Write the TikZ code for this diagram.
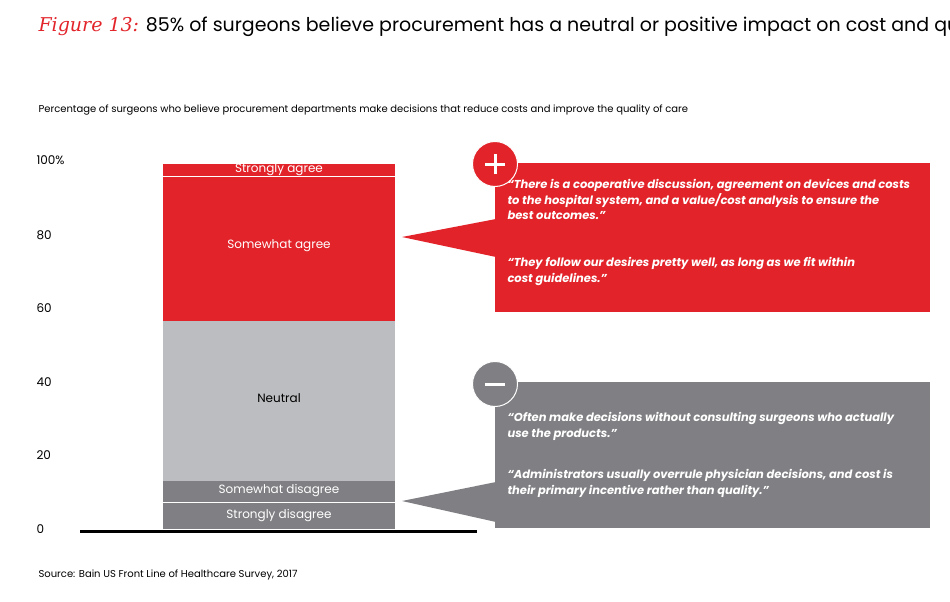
\documentclass[tikz,border=0pt]{standalone}
\usepackage{fontspec}
\setmainfont{Poppins}
\newfontfamily\figfont{DejaVu Serif}
\definecolor{bainred}{HTML}{E2242A}
\definecolor{darkgrey}{HTML}{808084}
\definecolor{lightgrey}{HTML}{BCBDC0}
\tikzset{
  seglabel/.style={font=\fontsize{12}{14}\selectfont},
  ticklabel/.style={anchor=west,font=\fontsize{12}{14}\selectfont},
  quote/.style={anchor=north west,align=left,text=white,font=\fontsize{11.5}{15.5}\selectfont\itshape\bfseries},
  badge/.style={circle,draw=white,line width=1pt,minimum size=45pt,inner sep=0pt}
}
\begin{document}
\begin{tikzpicture}[x=1pt,y=-1pt]
  \useasboundingbox (0,0) rectangle (950,602);
  % title and subtitle
  \node (title)[anchor=west] at (35,27) {\fontsize{19}{24}\selectfont{\color{bainred}\figfont\itshape Figure 13:} 85\% of surgeons believe procurement has a neutral or positive impact on cost and quality};
  \node (sub)[anchor=west,font=\fontsize{10}{13}\selectfont] at (35,110) {Percentage of surgeons who believe procurement departments make decisions that reduce costs and improve the quality of care};
  % axis
  \foreach \v/\y in {100\%/160,80/235,60/308,40/382,20/455,0/529}
    \node[ticklabel] at (33,\y) {\v};
  % bar
  \fill[darkgrey] (163,481) rectangle (395,529);
  \fill[lightgrey] (163,321) rectangle (395,481);
  \fill[bainred] (163,164) rectangle (395,321);
  \draw[white,line width=0.8pt] (163,502) -- (395,502);
  \draw[white,line width=0.8pt] (163,176) -- (395,176);
  \node[seglabel,text=white] (sa) at (279,170) {Strongly agree};
  \node[seglabel,text=white] (wa) at (279,246) {Somewhat agree};
  \node[seglabel] (ne) at (279,398) {Neutral};
  \node[seglabel,text=white] (wd) at (279,491) {Somewhat disagree};
  \node[seglabel,text=white] (sd) at (279,516) {Strongly disagree};
  \draw[black,line width=3pt] (80,531) -- (477,531);
  % positive callout
  \fill[bainred] (495,163) rectangle (930,312);
  \fill[bainred] (402,237) -- (496,219) -- (496,257) -- cycle;
  \node[badge,fill=bainred] (plus) at (495,164) {};
  \draw[white,line width=3pt] ([xshift=-10pt]plus.center) -- ([xshift=10pt]plus.center)
    ([yshift=-10pt]plus.center) -- ([yshift=10pt]plus.center);
  \node[quote] (q1) at (504,176) {``There is a cooperative discussion, agreement on devices and costs\\to the hospital system, and a value/cost analysis to ensure the\\best outcomes.''};
  \node[quote] (q2) at (504,254) {``They follow our desires pretty well, as long as we fit within\\cost guidelines.''};
  % negative callout
  \fill[darkgrey] (495,382) rectangle (930,528);
  \fill[darkgrey] (402,501) -- (496,482) -- (496,522) -- cycle;
  \node[badge,fill=darkgrey] (minus) at (495,384) {};
  \draw[white,line width=3pt] ([xshift=-10pt]minus.center) -- ([xshift=10pt]minus.center);
  \node[quote] (q3) at (504,409) {``Often make decisions without consulting surgeons who actually\\use the products.''};
  \node[quote] (q4) at (504,466) {``Administrators usually overrule physician decisions, and cost is\\their primary incentive rather than quality.''};
  % source
  \node (src)[anchor=west,font=\fontsize{10}{12}\selectfont] at (35,575) {Source: Bain US Front Line of Healthcare Survey, 2017};
\end{tikzpicture}
\end{document}
